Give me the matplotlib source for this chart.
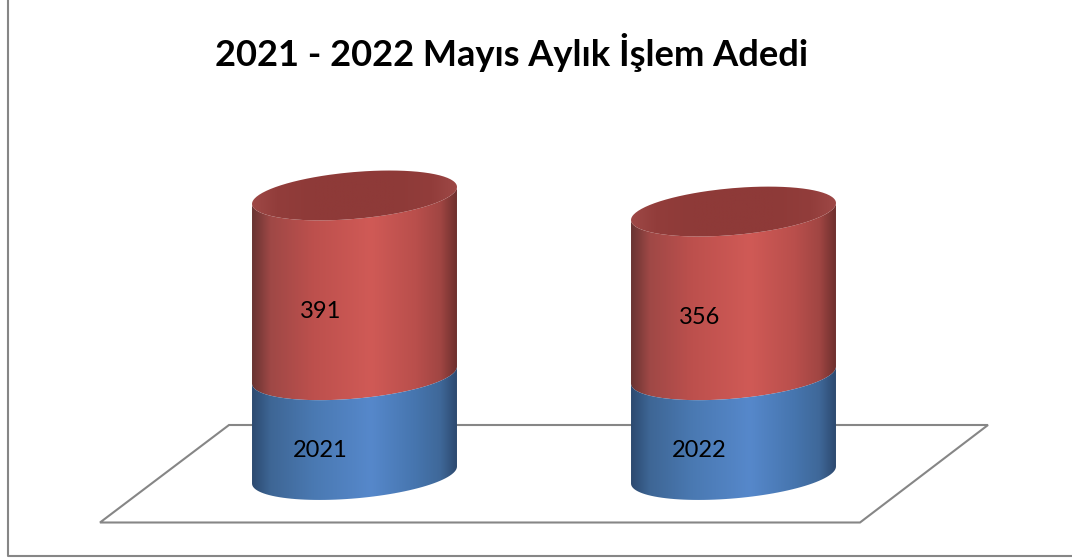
import numpy as np
import matplotlib
matplotlib.use('Agg')
import matplotlib.pyplot as plt
from matplotlib.colors import LinearSegmentedColormap
from matplotlib.patches import PathPatch, Polygon
from matplotlib.path import Path

years = ['2021', '2022']
blue_heights = [217, 217]  # drawn height of the year series, no label value of its own
red_values = [391, 356]
title = '2021 - 2022 Mayıs Aylık İşlem Adedi'

plt.rcParams['font.family'] = ['Lato', 'DejaVu Sans']

BLUE = [(0, '#2c4a70'), (0.09, '#3e6695'), (0.3, '#4a79b2'), (0.58, '#5688cb'),
        (0.8, '#4675ae'), (0.92, '#3f6899'), (1, '#2d4a70')]
RED = [(0, '#693432'), (0.09, '#9f4846'), (0.3, '#bd504d'), (0.58, '#d05a56'),
       (0.8, '#b94f4c'), (0.92, '#a14643'), (1, '#6f302e')]
TOP = [(0, '#9e4846'), (0.12, '#923d3b'), (0.3, '#8e3a38'), (0.7, '#8e3a38'),
       (0.88, '#923d3b'), (1, '#9e4846')]

HALF_W = 0.2704  # x units
TILT = 18.5      # y units, rise of the ellipse at the right edge
DEPTH = 51       # y units, half depth of the ellipse

W, H = 1072, 560
fig = plt.figure(figsize=(W / 100, H / 100), dpi=100)

# pixel layer for the frame and the floor
bg = fig.add_axes([0, 0, 1, 1])
bg.set_xlim(0, W)
bg.set_ylim(H, 0)
bg.axis('off')
bg.plot([7.5, 7.5, W + 5], [-5, 555.5, 555.5], color='#868686', lw=1.5, clip_on=False)
bg.add_patch(Polygon([(100, 522.5), (860, 522.5), (988, 425), (229, 425)], closed=True,
                     fill=False, ec='#868686', lw=1.5))
bg.text(512, 52, title, ha='center', va='center', fontsize=26.1, fontweight='bold', color='black')

# chart layer: x=category index, y=value
ax = fig.add_axes([0, 0, 1, 1], facecolor='none')
ax.axis('off')
xlim = ((0 - 354.5) / 379, (W - 354.5) / 379)
ylim = ((475 - H) * 2.175, 475 * 2.175)
ax.set_xlim(xlim)
ax.set_ylim(ylim)


def front_arc(x0, base, n=60):
    t = np.linspace(0, np.pi, n)
    return x0 + HALF_W * np.cos(t), base + TILT * np.cos(t) - DEPTH * np.sin(t)


def gradient_fill(path, x0, y0, y1, colors, zorder):
    cmap = LinearSegmentedColormap.from_list('g', colors)
    patch = PathPatch(path, transform=ax.transData, fc='none', ec='none')
    ax.add_patch(patch)
    im = ax.imshow(np.linspace(0, 1, 256).reshape(1, -1), cmap=cmap, aspect='auto',
                   extent=(x0 - HALF_W, x0 + HALF_W, y0, y1), zorder=zorder, interpolation='bilinear')
    im.set_clip_path(patch)


def segment(x0, y0, y1, colors, zorder):
    xb, yb = front_arc(x0, y0)
    xt, yt = front_arc(x0, y1)
    pts = np.column_stack([np.r_[xb, xt[::-1]], np.r_[yb, yt[::-1]]])
    pts = np.vstack([pts, pts[0]])
    gradient_fill(Path(pts), x0, y0 - 2 * DEPTH, y1 + 2 * DEPTH, colors, zorder)


def top_face(x0, y):
    t = np.linspace(0, 2 * np.pi, 160)
    xs = x0 + HALF_W * np.cos(t)
    ys = y + TILT * np.cos(t) + DEPTH * np.sin(t)
    gradient_fill(Path(np.column_stack([xs, ys])), x0, y - 2 * DEPTH, y + 2 * DEPTH, TOP, 5)


for i, year in enumerate(years):
    b = blue_heights[i]
    r = red_values[i]
    segment(i, b, b + r, RED, 3)
    segment(i, 0, b, BLUE, 4)
    top_face(i, b + r)
    ax.text(i - 0.0897, b * 0.25, year, ha='center', va='center', fontsize=17, color='black', zorder=6)
    ax.text(i - 0.0897, b + r * 0.355, str(r), ha='center', va='center', fontsize=17, color='black', zorder=6)

ax.set_xlim(xlim)
ax.set_ylim(ylim)

fig.savefig('out.png', dpi=100, facecolor='white')
